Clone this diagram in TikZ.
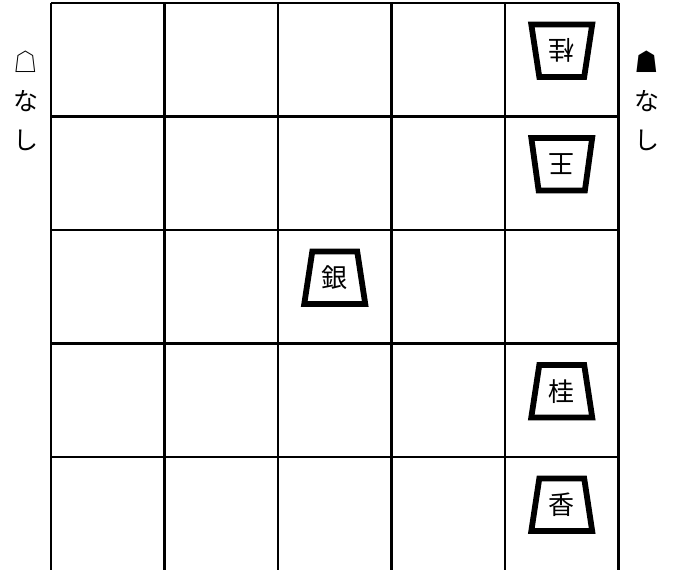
\documentclass[tikz,border=0pt]{standalone}
\usepackage{fontspec}
\newfontfamily\jp{Noto Sans CJK JP}
\usepackage{tikz}
\usetikzlibrary{shapes.geometric}

\begin{document}
\begin{tikzpicture}[x=113.5pt, y=113.5pt,
    koma/.style={draw, fill=white, line width=5.8pt, trapezium, trapezium angle=79,
        trapezium stretches=true, minimum width=61pt, minimum height=52.5pt,
        inner sep=0pt, font=\jp\fontsize{26}{26}\selectfont},
    mochi/.style={align=center, font=\jp\fontsize{25}{39}\selectfont}]
    \useasboundingbox (-0.4493,0.0132) rectangle (5.4978,5.0264);
    % Bàn cờ
    \foreach \i in {0,...,5}
        \draw[line width=2.2pt] (\i,5) -- (\i,-0.1);
    \foreach \j in {1,...,5}
        \draw[line width=2.2pt] (0,\j) -- (5,\j);

    % Quân của đối phương (xoay ngược)
    \node[koma, rotate=180] (keiGote) at (4.5,4.58) {桂};
    \node[koma, rotate=180] (ouGote) at (4.5,3.58) {王};

    % Quân của mình
    \node[koma] (gin) at (2.5,2.58) {銀};
    \node[koma] (kei) at (4.5,1.58) {桂};
    \node[koma] (kyou) at (4.5,0.58) {香};

    % Quân trong tay
    \node[mochi] (mochiGote) at (-0.22,4.14) {☖\\な\\し};
    \node[mochi] (mochiSente) at (5.247,4.14) {☗\\な\\し};
\end{tikzpicture}
\end{document}
